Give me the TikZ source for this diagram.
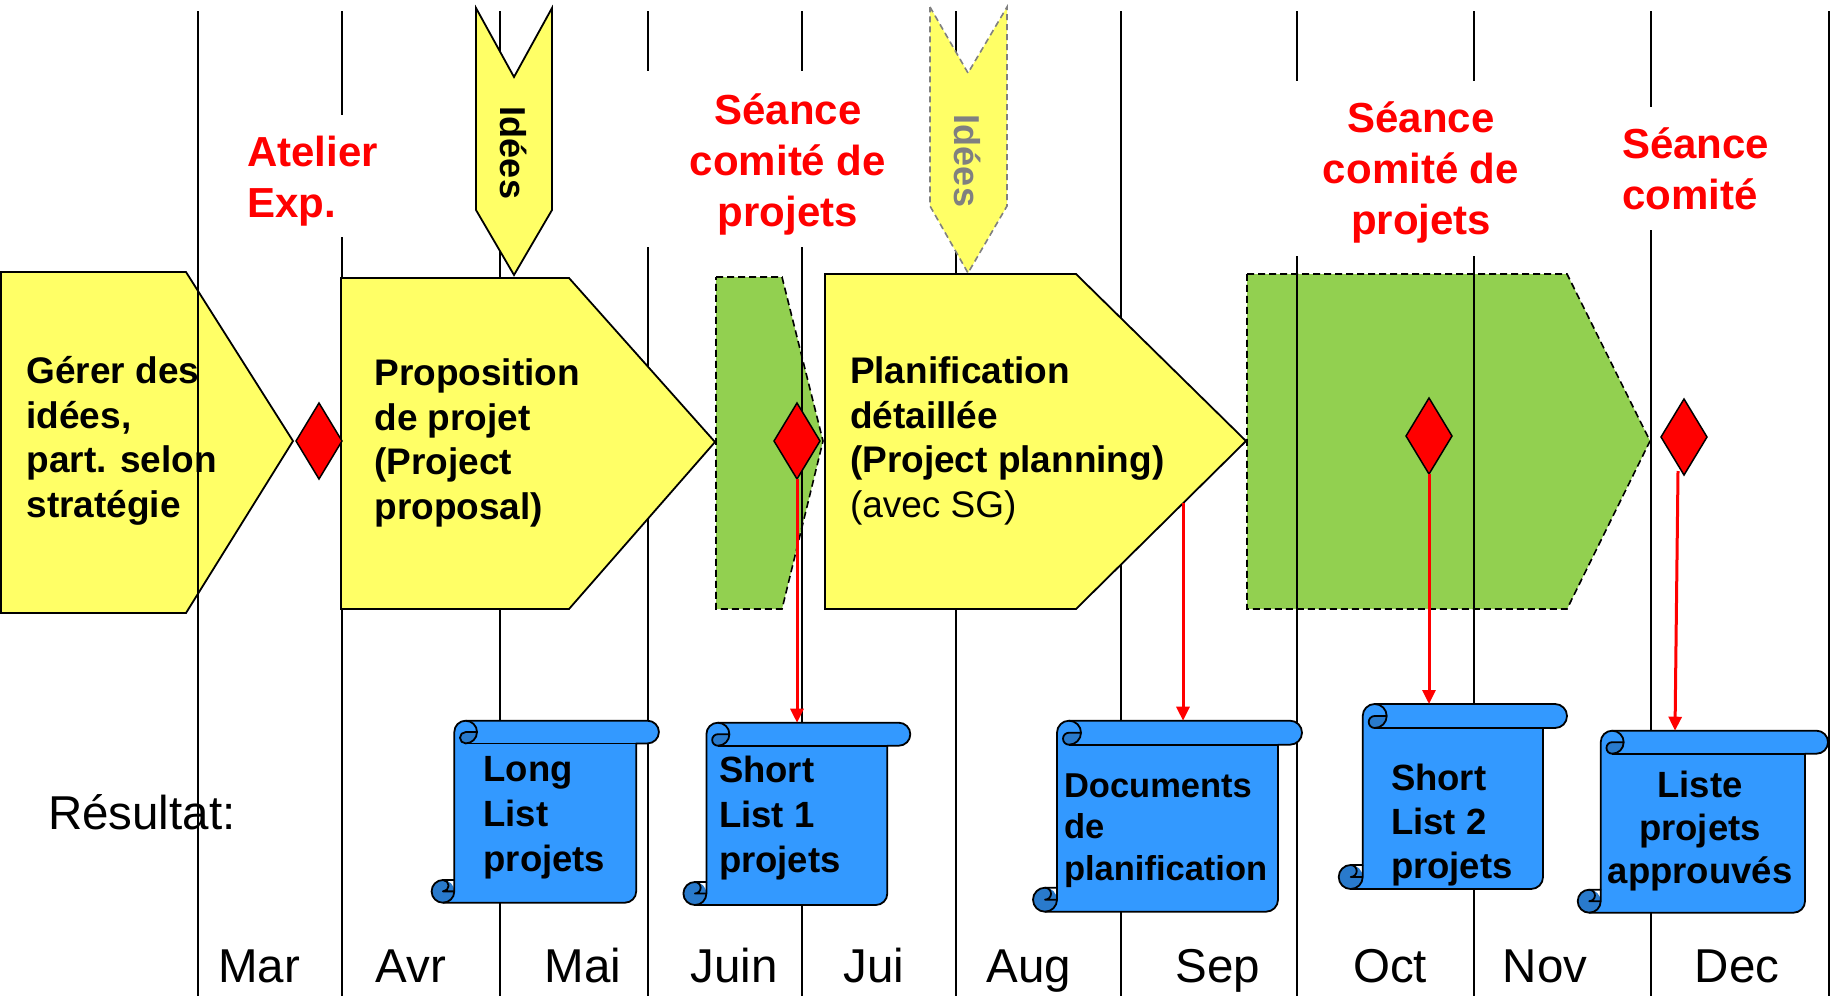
\documentclass[tikz,border=0pt]{standalone}
\usepackage{fontspec}
\setmainfont{Liberation Sans}
\usetikzlibrary{shapes.geometric,arrows.meta,calc}
\definecolor{pyellow}{HTML}{FFFF66}
\definecolor{pgreen}{HTML}{92D050}
\definecolor{sblue}{HTML}{3399FF}
\definecolor{sdark}{HTML}{297ACC}
\definecolor{dgray}{HTML}{808080}
\definecolor{pred}{HTML}{FF0000}

% scroll: #1 left, #2 top, #3 right, #4 bottom (screen px, y down), #5 roll diameter
\newcommand\scrollshape[5]{%
  \pgfmathsetmacro\scH{#5/2}%
  \pgfmathsetmacro\scQ{#5/4}%
  \pgfmathsetmacro\scxA{#1+#5/2}%
  \pgfmathsetmacro\scxC{#1+#5}%
  \pgfmathsetmacro\scxT{#1+1.5*#5}%
  \pgfmathsetmacro\scxF{#1+2*#5}%
  \pgfmathsetmacro\scxS{#3-#5}%
  \pgfmathsetmacro\scxV{#3-#5/2}%
  \pgfmathsetmacro\scyT{-(#2)}%
  \pgfmathsetmacro\scyTh{-(#2)-#5/2}%
  \pgfmathsetmacro\scyTc{-(#2)-#5}%
  \pgfmathsetmacro\scyB{-(#4)}%
  \pgfmathsetmacro\scyBh{-(#4)+#5/2}%
  \pgfmathsetmacro\scyBc{-(#4)+#5}%
  \fill[sblue] (\scxA,\scyB) arc[start angle=-90,end angle=0,radius=\scH]
     -- (\scxC,\scyTh) arc[start angle=180,end angle=90,radius=\scH]
     -- (\scxV,\scyT) arc[start angle=90,end angle=-90,radius=\scH]
     -- (\scxS,\scyTc) -- (\scxS,\scyBh) arc[start angle=0,end angle=-90,radius=\scH]
     -- cycle;
  \fill[sdark] (\scxA,\scyBh) circle[radius=\scH];
  \fill[sdark] (\scxF,\scyTh) arc[start angle=0,end angle=-90,radius=\scH]
     arc[start angle=-90,end angle=-270,radius=\scQ] -- cycle;
  \draw[scrollline] (\scxC,\scyBc) -- (\scxC,\scyTh) arc[start angle=180,end angle=90,radius=\scH]
     -- (\scxV,\scyT) arc[start angle=90,end angle=-90,radius=\scH]
     -- (\scxS,\scyTc) -- (\scxS,\scyBh) arc[start angle=0,end angle=-90,radius=\scH]
     -- (\scxA,\scyB) arc[start angle=-90,end angle=-270,radius=\scH] -- cycle;
  \draw[scrollline] (\scxT,\scyT) arc[start angle=90,end angle=-90,radius=\scH]
     arc[start angle=-90,end angle=-270,radius=\scQ] -- (\scxF,\scyTh);
  \draw[scrollline] (\scxS,\scyTc) -- (\scxT,\scyTc);
  \draw[scrollline] (\scxA,\scyBc) arc[start angle=90,end angle=-90,radius=\scQ] -- (\scxC,\scyBh);
  \draw[scrollline] (\scxA,\scyB) arc[start angle=-90,end angle=0,radius=\scH] -- (\scxC,\scyBc);
}

\begin{document}
\begin{tikzpicture}[x=1pt,y=1pt,
  every node/.style={inner sep=0pt, outer sep=0pt},
  procbox/.style={draw=black, line width=1.8, fill=pyellow},
  greenbox/.style={draw=black, line width=1.6, dash pattern=on 7pt off 4pt, fill=pgreen},
  monthline/.style={draw=black, line width=2},
  boldtxt/.style={font=\bfseries\fontsize{37}{44.5}\selectfont, align=left, anchor=base west},
  redtxt/.style={font=\bfseries\fontsize{42}{51}\selectfont, text=pred},
  monthtxt/.style={font=\fontsize{47.5}{50}\selectfont, anchor=base},
  gate/.style={diamond, draw=black, line width=1.5, fill=pred, minimum width=46, minimum height=76},
  redarrow/.style={draw=pred, line width=3, -{Triangle[length=14pt,width=13pt]}},
  scrollline/.style={draw=black, line width=1.8, line join=round},
  scrolltxt/.style={font=\bfseries\fontsize{36.5}{45}\selectfont, align=left, anchor=base west},
  ideastxt/.style={font=\bfseries\fontsize{36}{40}\selectfont, rotate=-90}
]
\useasboundingbox (0,0) rectangle (1835,-996);
\fill[white] (0,0) rectangle (1835,-996);

% shapes below the month lines
\draw[procbox] (1,-272) -- (186,-272) -- (293,-441) -- (186,-613) -- (1,-613) -- cycle;
\node[boldtxt] (gerer) at (26.5,-517) {Gérer des\\idées,\\part. selon\\stratégie};
\draw[greenbox] (716,-277) -- (782,-277) -- (823,-441) -- (782,-609) -- (716,-609) -- cycle;
\draw[greenbox] (1247,-274) -- (1567,-274) -- (1650,-441) -- (1567,-609) -- (1247,-609) -- cycle;

% month separators
\foreach \mx in {198,342,500,648,802,956,1121,1297,1474,1651,1829}
  \draw[monthline] (\mx,-11) -- (\mx,-996);

% white backgrounds of the red labels
\fill[white] (232,-115) rectangle (395,-237);
\fill[white] (628,-71) rectangle (940,-247);
\fill[white] (1285,-81) rectangle (1560,-256);
\fill[white] (1610,-107) rectangle (1790,-230);

\node[redtxt, align=left, anchor=base west] (atelier) at (247,-217) {Atelier\\Exp.};
\node[redtxt, align=center, anchor=base] (seance1) at (788,-226) {Séance\\comité de\\projets};
\node[redtxt, align=center, anchor=base] (seance2) at (1421,-234) {Séance\\comité de\\projets};
\node[redtxt, align=left, anchor=base west] (seance3) at (1622,-209) {Séance\\comité};

% process arrows above the lines
\draw[procbox] (341,-278) -- (569,-278) -- (715,-442) -- (569,-609) -- (341,-609) -- cycle;
\node[boldtxt] (propo) at (374.5,-519) {Proposition\\de projet\\(Project\\proposal)};
\draw[procbox] (825,-274) -- (1076,-274) -- (1246,-441) -- (1076,-609) -- (825,-609) -- cycle;
\node[boldtxt] (planif) at (850,-517) {Planification\\détaillée\\(Project planning)\\{\mdseries (avec SG)}};
\coordinate (planout) at (1183,-503);

% idea inputs
\draw[draw=black, line width=1.8, fill=pyellow] (476,-8) -- (514,-77) -- (552,-8) -- (552,-210) -- (514,-275) -- (476,-210) -- cycle;
\node[ideastxt] (idees1) at (514,-153) {Idées};
\draw[draw=dgray, line width=1.6, dash pattern=on 6pt off 4pt, fill=pyellow] (930,-7) -- (968,-73) -- (1007,-7) -- (1007,-206) -- (968,-273) -- (930,-206) -- cycle;
\node[ideastxt, text=dgray] (idees2) at (968,-161) {Idées};

% decision gates
\node[gate] (d1) at (319,-441) {};
\node[gate] (d2) at (797,-441) {};
\node[gate] (d3) at (1429,-436) {};
\node[gate] (d4) at (1684,-437) {};
\coordinate (d4out) at ($(d4.south)+(-6,4)$);

% result scrolls
\scrollshape{431.6}{720.7}{658.9}{902.7}{22.7}
\node[scrolltxt] (res1) at (483.5,-871.7) {Long\\List\\projets};
\scrollshape{683.4}{722.7}{910.3}{905}{23}
\node[scrolltxt] (res2) at (719,-872.7) {Short\\List 1\\projets};
\coordinate (s2top) at (797,-722.7);
\scrollshape{1033}{720.7}{1302}{911.7}{24}
\node[scrolltxt, font=\bfseries\fontsize{34.5}{41.5}\selectfont] (res3) at (1064,-880) {Documents\\de\\planification};
\coordinate (s3top) at (1183,-720.7);
\scrollshape{1338.7}{704}{1567}{889}{24}
\node[scrolltxt, font=\bfseries\fontsize{36.5}{44}\selectfont] (res4) at (1391,-878) {Short\\List 2\\projets};
\coordinate (s4top) at (1429,-704);
\scrollshape{1577.7}{730.7}{1828}{912.7}{23}
\node[scrolltxt, align=center, anchor=base, font=\bfseries\fontsize{36.5}{43.2}\selectfont] (res5) at (1700,-883.4) {Liste\\projets\\approuvés};
\coordinate (s5top) at (1675,-730.7);

% deliverable connectors
\draw[redarrow] (d2.south) -- (s2top);
\draw[redarrow] (planout) -- (s3top);
\draw[redarrow] (d3.south) -- (s4top);
\draw[redarrow] (d4out) -- (s5top);

% labels
\node[font=\fontsize{47.5}{50}\selectfont, anchor=base west] (resultat) at (48,-829) {Résultat:};
\node[monthtxt] (mar) at (259,-982) {Mar};
\node[monthtxt] (avr) at (411,-982) {Avr};
\node[monthtxt] (mai) at (583,-982) {Mai};
\node[monthtxt] (juin) at (734,-982) {Juin};
\node[monthtxt] (jui) at (874,-982) {Jui};
\node[monthtxt] (aug) at (1029,-982) {Aug};
\node[monthtxt] (sep) at (1218,-982) {Sep};
\node[monthtxt] (oct) at (1390,-982) {Oct};
\node[monthtxt] (nov) at (1545,-982) {Nov};
\node[monthtxt] (dec) at (1737,-982) {Dec};
\end{tikzpicture}
\end{document}
